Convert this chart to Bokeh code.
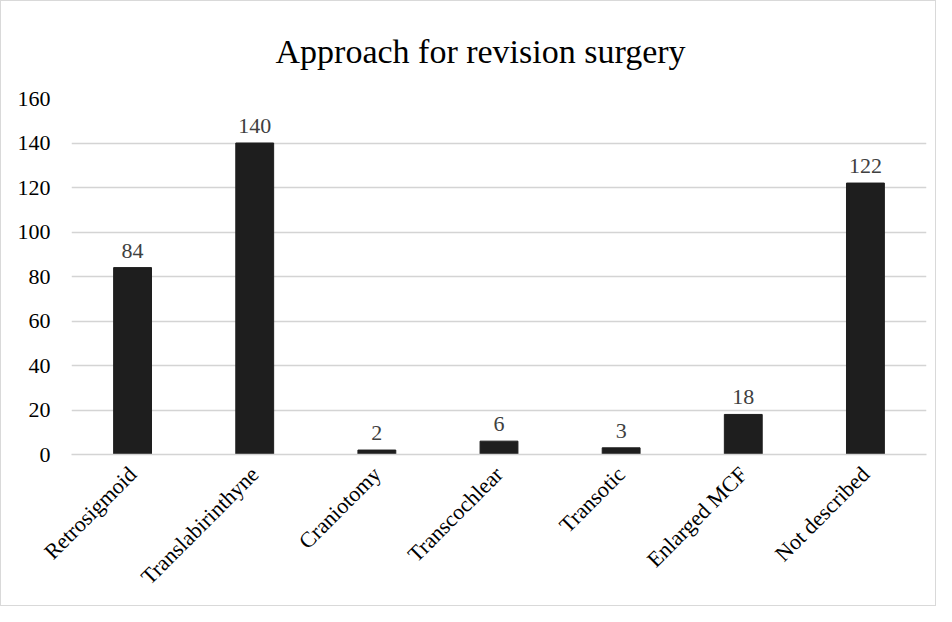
from math import pi
from bokeh.plotting import figure
from bokeh.models import ColumnDataSource, LabelSet, Title
from bokeh.embed import file_html
from bokeh.resources import INLINE

categories = ["Retrosigmoid", "Translabirinthyne", "Craniotomy", "Transcochlear",
              "Transotic", "Enlarged MCF", "Not described"]
counts = [84, 140, 2, 6, 3, 18, 122]
y_ticks = [0, 20, 40, 60, 80, 100, 120, 140, 160]
title_text = "Approach for revision surgery"

FONT = "Liberation Serif"

src = ColumnDataSource(dict(cat=categories, val=counts, lab=[str(v) for v in counts]))

p = figure(x_range=categories, y_range=(0, 160), width=936, height=606,
           output_backend="svg", toolbar_location=None,
           min_border_left=70, min_border_right=11, min_border_top=97, min_border_bottom=153)
p.title = Title(text=title_text, text_font=FONT, text_font_size="34px",
                text_font_style="normal", text_color="#000000", align="left", offset=204,
                standoff=57)

p.vbar(x="cat", top="val", width=0.31, source=src, fill_color="#1e1e1e", line_color="#1e1e1e")

p.add_layout(LabelSet(x="cat", y="val", text="lab", source=src, text_align="center",
                      text_baseline="bottom", y_offset=10, text_font=FONT,
                      text_font_size="22px", text_color="#404040"))

p.outline_line_color = None
p.xgrid.grid_line_color = None
p.ygrid.grid_line_color = "#d4d4d4"
p.ygrid.grid_line_width = 1.5
p.yaxis.ticker = y_ticks
p.yaxis.axis_line_color = None
p.yaxis.major_tick_line_color = None
p.yaxis.minor_tick_line_color = None
p.yaxis.major_label_text_font = FONT
p.yaxis.major_label_text_font_size = "22px"
p.yaxis.major_label_text_color = "#000000"
p.yaxis.major_label_standoff = 15

p.xaxis.axis_line_color = "#d4d4d4"
p.xaxis.axis_line_width = 1.5
p.xaxis.major_tick_line_color = None
p.xaxis.major_label_orientation = pi / 4
p.xaxis.major_label_text_font = FONT
p.xaxis.major_label_text_font_size = "22px"
p.xaxis.major_label_text_color = "#000000"
p.xaxis.major_label_standoff = 10

p.styles = {"border": "1px solid #d9d9d9"}

open("out.html", "w").write(file_html(p, INLINE))
